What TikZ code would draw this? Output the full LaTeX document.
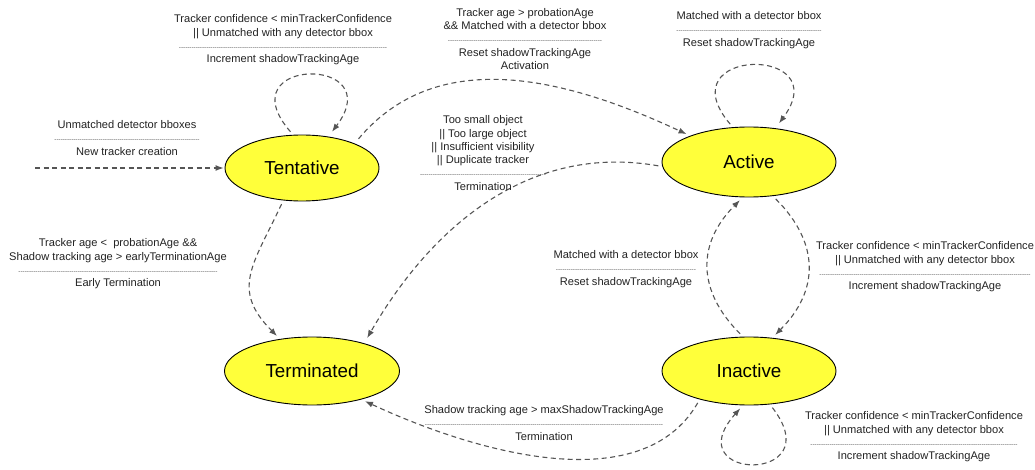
\documentclass[tikz,border=0pt]{standalone}
\usepackage{fontspec}
\setmainfont{Liberation Sans}
\usetikzlibrary{positioning, arrows.meta, shapes.geometric}
\definecolor{stateyellow}{HTML}{FFFF3A}
\definecolor{edgegray}{HTML}{555555}
\definecolor{labeltext}{HTML}{222222}
\newcommand{\sepline}[1]{\hbox to #1pt{\color{edgegray}\xleaders\hbox to 2.1pt{\hss\fontsize{6.5}{6.5}\selectfont-\hss}\hfill}}

\begin{document}
\begin{tikzpicture}[x=1pt, y=-1pt,
  statenode/.style={ellipse, draw=black, line width=0.9pt, fill=stateyellow, inner sep=0pt,
                    font=\fontsize{18.8}{20}\selectfont},
  lbl/.style={align=center, text=labeltext, font=\fontsize{11.1}{13.3}\selectfont, inner sep=0pt},
  trans/.style={draw=edgegray, line width=1.1pt, dash pattern=on 5pt off 3.5pt,
                -{Latex[length=8pt,width=6pt]}, shorten >=4pt, shorten <=4pt}]
  \useasboundingbox (0,0) rectangle (1035,470);

  % states
  \node[statenode, minimum width=154pt, minimum height=66pt] (tent) at (302,168) {Tentative};
  \node[statenode, minimum width=174pt, minimum height=70pt] (act) at (749,162) {Active};
  \node[statenode, minimum width=175pt, minimum height=68pt] (term) at (312,371) {Terminated};
  \node[statenode, minimum width=174pt, minimum height=68pt] (inact) at (749,371) {Inactive};
  \coordinate (entry) at (35,168);

  % transitions
  \draw[trans, shorten <=0pt, shorten >=1pt] (entry) -- (tent.west);
  \draw[trans, shorten >=6pt] (tent.105) .. controls +(-68,-78) and +(62,-82) .. (tent.50);
  \draw[trans, shorten <=6pt] (tent.25) to[out=50, in=155] (act.156);
  \draw[trans, shorten >=6pt] (act.115) .. controls +(-68,-80) and +(62,-84) .. (act.52);
  \draw[trans, shorten >=6pt] (act.183) to[out=170, in=60] (term.28);
  \draw[trans] (tent.-120) to[out=-115, in=135, looseness=1.3] (term.135);
  \draw[trans] (inact.100) to[out=135, in=-135, looseness=1.2] (act.-100);
  \draw[trans] (act.-55) to[out=-45, in=45, looseness=1.2] (inact.55);
  \draw[trans] (inact.-150) to[out=-120, in=-25, looseness=0.9] (term.-30);
  \draw[trans] (inact.-58) .. controls +(62,80) and +(-68,76) .. (inact.-100);

  % transition labels
  \node[lbl] (lbltentloop) at (283,40) {Tracker confidence < minTrackerConfidence\\
    || Unmatched with any detector bbox\\ \sepline{208}\\ Increment shadowTrackingAge};
  \node[lbl] (lblactivate) at (525,39) {Tracker age > probationAge\\
    \&\& Matched with a detector bbox\\ \sepline{154}\\ Reset shadowTrackingAge\\ Activation};
  \node[lbl] (lblactloop) at (749,30) {Matched with a detector bbox\\ \sepline{145}\\
    Reset shadowTrackingAge};
  \node[lbl] (lblnew) at (127,138) {Unmatched detector bboxes\\ \sepline{145}\\ New tracker creation};
  \node[lbl] (lblearly) at (118,264) {Tracker age <\ \ probationAge \&\&\\
    Shadow tracking age > earlyTerminationAge\\ \sepline{199}\\ Early Termination};
  \node[lbl] (lblkill) at (483,153) {Too small object\\ || Too large object\\
    || Insufficient visibility\\ || Duplicate tracker\\ \sepline{126}\\ Termination};
  \node[lbl] (lblreact) at (626,269) {Matched with a detector bbox\\ \sepline{140}\\
    Reset shadowTrackingAge};
  \node[lbl] (lbldeact) at (925,267) {Tracker confidence < minTrackerConfidence\\
    || Unmatched with any detector bbox\\ \sepline{211}\\ Increment shadowTrackingAge};
  \node[lbl] (lblexpire) at (544,423) {Shadow tracking age > maxShadowTrackingAge\\
    \sepline{238}\\ Termination};
  \node[lbl] (lblinactloop) at (914,437) {Tracker confidence < minTrackerConfidence\\
    || Unmatched with any detector bbox\\ \sepline{207}\\ Increment shadowTrackingAge};
\end{tikzpicture}
\end{document}
